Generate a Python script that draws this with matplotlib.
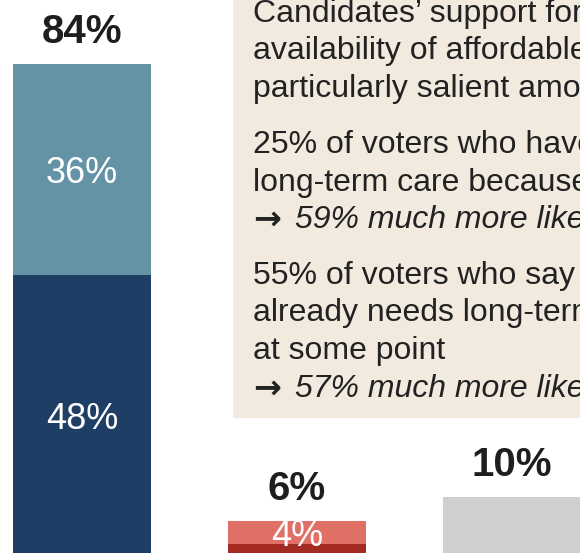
import matplotlib.pyplot as plt
from matplotlib.patches import Rectangle

plt.rcParams['font.family'] = ['Liberation Sans', 'DejaVu Sans']

# impact on vote, stacked: strong share at the bottom, soft share on top
groups = ['More likely', 'Less likely', 'No difference']
strong = [48, 2, 10]
soft = [36, 4, 0]
totals = [84, 6, 10]
strong_colors = ['#1F3E66', '#A32B22', '#CFCFCF']
soft_colors = ['#6593A6', '#E07066', '#CFCFCF']
inner_labels = [['48%', '36%'], [None, '4%'], [None, None]]

note_lines = [
    ('Candidates’ support for increasing the', None),
    ('availability of affordable long-term care is', None),
    ('particularly salient among these voters', None),
    ('25% of voters who have personally needed', None),
    ('long-term care because of a health issue', None),
    ('→', '59% much more likely'),
    ('55% of voters who say a family member', None),
    ('already needs long-term care or will need it', None),
    ('at some point', None),
    ('→', '57% much more likely'),
]
note_baselines = [22, 59.5, 97, 153, 190.5, 228, 284, 321.5, 359, 397]

W, H = 580, 553
fig = plt.figure(figsize=(W / 100, H / 100), dpi=100)

# axes spans the whole canvas; baseline sits just under the bottom edge
px_per_pct = 5.86
ax = fig.add_axes([0, -3 / H, 1, 556 / H])
ax.set_xlim(-82 / 215, (W - 82) / 215)
ax.set_ylim(0, 556 / px_per_pct)
ax.axis('off')

# note panel behind the text
fig.patches.append(Rectangle((233 / W, 1 - 418 / H), 1, 1, transform=fig.transFigure,
                             facecolor='#F2EADF', edgecolor='none', zorder=0))

x = range(len(groups))
width = 138 / 215
ax.bar(x, strong, width=width, color=strong_colors, zorder=2)
ax.bar(x, soft, width=width, bottom=strong, color=soft_colors, zorder=2)

for i in x:
    ax.annotate(f'{totals[i]}%', (i, totals[i]), xytext=(0, 23), textcoords='offset points',
                ha='center', va='center', fontsize=29, fontweight='bold', color='#1E1E1E')
    lo, hi = inner_labels[i]
    if lo:
        ax.annotate(lo, (i, strong[i] / 2), xytext=(0, -3), textcoords='offset points',
                    ha='center', va='center', fontsize=26, color='white', zorder=3)
    if hi:
        ax.annotate(hi, (i, strong[i] + soft[i] / 2), xytext=(0, -3), textcoords='offset points',
                    ha='center', va='center', fontsize=26, color='white', zorder=3)


def clipped(t):
    t.set_clip_on(True)
    t.set_clip_box(fig.bbox)


for (txt, ital), yb in zip(note_lines, note_baselines):
    if ital:
        clipped(fig.text(253 / W, 1 - (yb - 9) / H, txt, ha='left', va='center', fontsize=24,
                         family='DejaVu Sans', fontweight='bold', color='#222222'))
        clipped(fig.text(295 / W, 1 - yb / H, ital, ha='left', va='baseline', fontsize=23,
                         style='italic', color='#222222'))
    else:
        clipped(fig.text(253 / W, 1 - yb / H, txt, ha='left', va='baseline', fontsize=23,
                         color='#222222'))

fig.savefig('out.png', dpi=100)
